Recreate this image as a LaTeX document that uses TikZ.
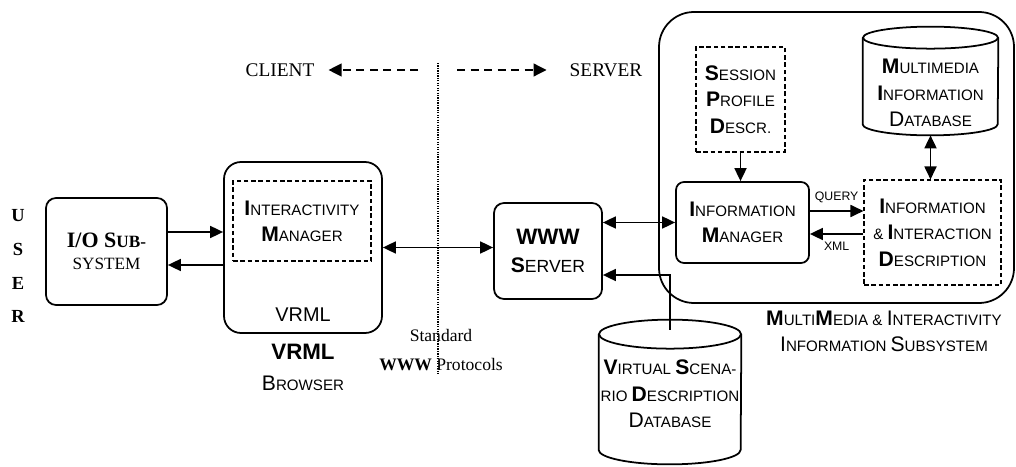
\documentclass[tikz,border=0pt]{standalone}
\usepackage{fontspec}
\setmainfont{Liberation Serif}
\setsansfont{Liberation Sans}
\usetikzlibrary{shapes.geometric, arrows.meta, positioning, calc}
\newcommand{\bi}[2]{{\fontsize{12}{15}\selectfont\bfseries #1}#2}
\newcommand{\ri}[2]{{\fontsize{12}{15}\selectfont #1}#2}

\begin{document}
\begin{tikzpicture}[
      x=0.2mm, y=-0.2mm,
      box/.style={rectangle, rounded corners=2mm, draw=black, line width=1pt,
                  font=\sffamily\fontsize{8.6}{15}\selectfont, align=center},
      dbox/.style={rectangle, draw=black, line width=0.6pt, dash pattern=on 0.9mm off 0.55mm,
                  font=\sffamily\fontsize{8.6}{15}\selectfont, align=center},
      db/.style={rectangle, inner sep=0pt},
      dbline/.style={draw=black, line width=1pt},
      lbl/.style={font=\sffamily\fontsize{8.6}{15}\selectfont, align=center},
      arr/.style={-{Triangle[length=2.6mm, width=2.4mm]}, line width=1pt},
      arr2/.style={{Triangle[length=2.6mm, width=2.4mm]}-{Triangle[length=2.6mm, width=2.4mm]}, line width=1pt},
      darr/.style={-{Triangle[length=2.6mm, width=2.6mm]}, line width=0.7pt, dash pattern=on 1.6mm off 1.1mm}
    ]
    \useasboundingbox (0,0) rectangle (1016,467);
    \node[font=\bfseries\fontsize{10.5}{19.3}\selectfont, align=center] (u) at (18,266) {U\\S\\E\\R};
    \node[box, minimum width=24.2mm, minimum height=21.4mm, font=\rmfamily\fontsize{9.8}{12.5}\selectfont] (io) at (106.5,251.5)
      {{\bfseries\fontsize{12.5}{12.5}\selectfont I/O S}{\bfseries UB-}\\SYSTEM};
    \node[box, rounded corners=3.4mm, minimum width=31.6mm, minimum height=34.2mm] (br) at (303,247.5) {};
    \node[dbox, minimum width=27.6mm, minimum height=16mm] (im) at (302,221) {\bi{I}{NTERACTIVITY}\\\bi{M}{ANAGER}};
    \node[lbl, font=\sffamily\fontsize{11.3}{13}\selectfont] (brv) at (303,315) {VRML};
    \node[lbl, font=\sffamily\bfseries\fontsize{12.7}{14}\selectfont] (brb) at (303,352) {VRML};
    \node[lbl] (brw) at (303,383) {\ri{B}{ROWSER}};
    \node[box, minimum width=21.6mm, minimum height=19.2mm, font=\sffamily\fontsize{10}{16}\selectfont] (www) at (548,251)
      {{\bfseries\fontsize{12.7}{16}\selectfont WWW}\\\bi{S}{ERVER}};
    \node[box, rounded corners=7mm, minimum width=71mm, minimum height=58.2mm] (sub) at (836.5,157.5) {};
    \node[dbox, minimum width=17.8mm, minimum height=21mm] (sp) at (740.5,99.5) {\bi{S}{ESSION}\\\bi{P}{ROFILE}\\\bi{D}{ESCR.}};
    \node[box, rounded corners=1.6mm, minimum width=26.6mm, minimum height=16.2mm] (inm) at (742.5,222.5) {\bi{I}{NFORMATION}\\\bi{M}{ANAGER}};
    \node[db, minimum width=27mm, minimum height=21.6mm] (mm) at (930.5,81) {};
    \draw[dbline] ([yshift=-2.2mm]mm.north west) -- ([yshift=2.2mm]mm.south west)
      arc[start angle=180, end angle=360, x radius=13.5mm, y radius=2.2mm] -- ([yshift=-2.2mm]mm.north east);
    \draw[dbline] ([yshift=-2.2mm]mm.north) ellipse[x radius=13.5mm, y radius=2.2mm];
    \node[lbl] (mmt) at ([yshift=-2.4mm]mm.center) {\bi{M}{ULTIMEDIA}\\\bi{I}{NFORMATION}\\\ri{D}{ATABASE}};
    \node[dbox, minimum width=27.4mm, minimum height=21mm] (iid) at (932.5,232.5) {\bi{I}{NFORMATION}\\\& \bi{I}{NTERACTION}\\\bi{D}{ESCRIPTION}};
    \node[db, minimum width=28.4mm, minimum height=28.8mm] (vs) at (670,392) {};
    \draw[dbline] ([yshift=-2.9mm]vs.north west) -- ([yshift=2.9mm]vs.south west)
      arc[start angle=180, end angle=360, x radius=14.2mm, y radius=2.9mm] -- ([yshift=-2.9mm]vs.north east);
    \draw[dbline] ([yshift=-2.9mm]vs.north) ellipse[x radius=14.2mm, y radius=2.9mm];
    \node[lbl] (vst) at ([yshift=-0.4mm]vs.center) {\bi{V}{IRTUAL} \bi{S}{CENA-}\\RIO \bi{D}{ESCRIPTION}\\\ri{D}{ATABASE}};
    \node[lbl] (subl) at (884,331.5) {\bi{M}{ULTI}\bi{M}{EDIA} \& \ri{I}{NTERACTIVITY}\\\ri{I}{NFORMATION} \ri{S}{UBSYSTEM}};
    \node[font=\fontsize{11}{13}\selectfont] (cl) at (280,70) {CLIENT};
    \node[font=\fontsize{11}{13}\selectfont] (sv) at (606,70) {SERVER};
    \node[font=\fontsize{10}{17}\selectfont, align=center] (std) at (441,350) {Standard\\{\bfseries WWW} Protocols};
    \coordinate (c1) at (418,70);
    \coordinate (c2) at (457,70);
    \coordinate (d1) at (438,63);
    \coordinate (d2) at (438,375);
    \coordinate (a1) at ([yshift=3.9mm]io.east);
    \coordinate (a2) at ([yshift=-2.7mm]io.east);
    \coordinate (v1) at ([yshift=-4.8mm]www.east);
    \coordinate (q1) at ([yshift=2.3mm]inm.east);
    \coordinate (x1) at ([yshift=-2.3mm]inm.east);
    \draw[darr, shorten >=1.6mm] (c1) -- (cl);
    \draw[darr, shorten >=3.4mm] (c2) -- (sv);
    \draw[line width=0.9pt, dash pattern=on 0.7pt off 0.7pt] (d1) -- (d2);
    \draw[arr] (a1) -- (a1 -| br.west);
    \draw[arr] (a2 -| br.west) -- (a2);
    \draw[arr2] (br.east) -- (br.east -| www.west);
    \draw[arr2] (inm.west -| www.east) -- (inm.west);
    \draw[arr] ([yshift=-2mm]vs.north) |- (v1);
    \draw[arr] (sp.south) -- (sp.south |- inm.north);
    \draw[arr2] (mm.south) -- (mm.south |- iid.north);
    \draw[arr] (q1) -- node[above=1pt, font=\sffamily\fontsize{7}{8}\selectfont] {QUERY} (q1 -| iid.west);
    \draw[arr] (x1 -| iid.west) -- node[below=1pt, font=\sffamily\fontsize{7}{8}\selectfont] {XML} (x1);
  \end{tikzpicture}
\end{document}
